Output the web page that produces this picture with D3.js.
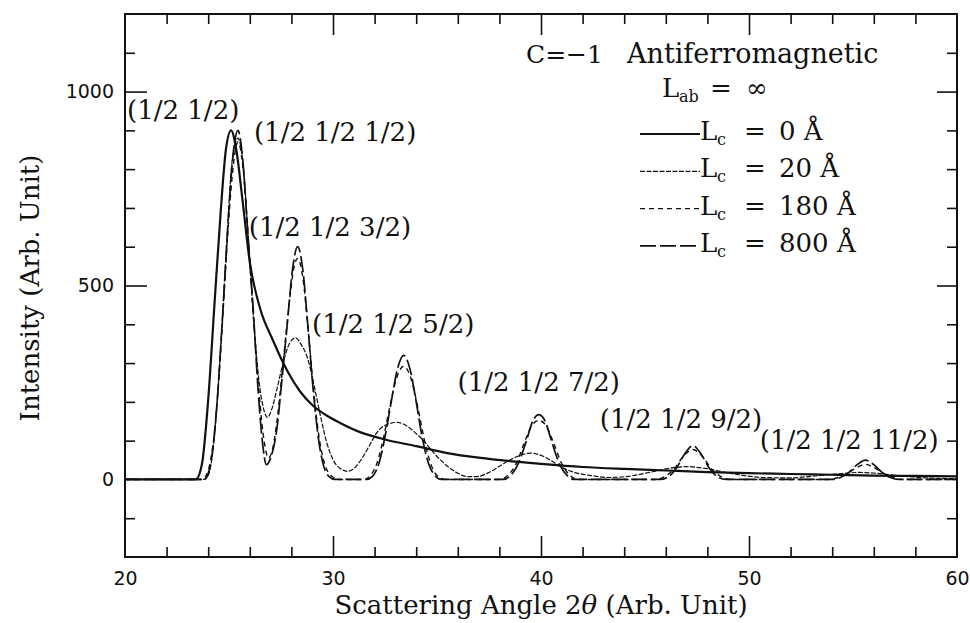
<!DOCTYPE html>
<html>
<head>
<meta charset="utf-8">
<script src="https://cdn.jsdelivr.net/npm/d3@7/dist/d3.min.js"></script>
<style>
  body { margin: 0; background: #fff; }
  svg { display: block; }
  .serif { font-family: "DejaVu Serif", serif; fill: #111; }
</style>
</head>
<body>
<svg id="chart" width="970" height="623"></svg>
<script>
// ---------------- data ----------------
const xTickLabels = [20, 30, 40, 50, 60];
const yTickLabels = [0, 500, 1000];

// L_c = 0 Å (2D rod, Warren-like profile)
const lc0Angle = [20, 23.4, 23.7, 24.0, 24.3, 24.6, 24.85, 25.1, 25.35, 25.65, 26.0, 26.5, 27.1, 27.8, 28.4, 29.0, 29.6, 30.3, 31.3, 32.5, 34.0, 35.5, 37.0, 38.5, 40.0, 42.0, 44.0, 46.0, 48.0, 50.0, 52.0, 54.0, 56.0, 58.0, 60.0];
const lc0Int   = [0, 0, 40, 206, 450, 690, 850, 900, 850, 720, 560, 440, 360, 280, 228, 192, 168, 147, 122, 103, 86, 68, 56, 47, 40, 32, 27, 23, 19, 16, 14, 12, 10, 9, 8];

// L_c = 20 Å (broad peaks)
const lc20Angle = [20, 23.8, 24.0, 24.3, 24.6, 24.9, 25.15, 25.43, 25.7, 25.95, 26.2, 26.45, 26.7, 26.85, 27.05, 27.3, 27.6, 27.9, 28.2, 28.5, 28.75, 29.1, 29.4, 29.7, 30.0, 30.35, 30.7, 31.0, 31.4, 31.8, 32.1, 32.6, 33.1, 33.6, 34.0, 34.3, 34.9, 35.5, 36.0, 36.5, 37.0, 37.5, 38.0, 38.5, 39.0, 39.5, 40.0, 40.5, 40.9, 41.5, 42.4, 43.3, 44.2, 45.2, 46.1, 47.0, 47.8, 48.5, 49.5, 50.7, 52.0, 53.0, 54.2, 55.3, 56.3, 57.3, 58.5, 60.0];
const lc20Int   = [0, 0, 10, 110, 340, 620, 820, 880, 800, 600, 400, 250, 175, 160, 180, 232, 300, 350, 365, 345, 317, 240, 163, 95, 51, 28, 21, 28, 55, 92, 120, 142, 147, 136, 118, 103, 65, 34, 16, 7, 8, 18, 34, 50, 62, 68, 62, 48, 34, 20, 10, 5, 8, 18, 28, 33, 29, 22, 12, 5, 4, 8, 14, 18, 15, 9, 4, 2];

// L_c = 180 Å
const lc180Angle = [20, 23.7, 23.9, 24.1, 24.3, 24.5, 24.7, 24.9, 25.15, 25.43, 25.7, 25.95, 26.2, 26.45, 26.7, 26.9, 27.1, 27.35, 27.6, 27.85, 28.1, 28.3, 28.55, 28.8, 29.05, 29.3, 29.6, 29.9, 30.3, 31.5, 31.8, 32.1, 32.4, 32.7, 33.05, 33.4, 33.75, 34.1, 34.4, 34.7, 35.0, 35.4, 38.0, 38.4, 38.8, 39.2, 39.55, 39.9, 40.25, 40.6, 41.0, 41.4, 41.8, 45.5, 45.9, 46.4, 46.85, 47.3, 47.75, 48.2, 48.7, 49.1, 53.8, 54.3, 54.75, 55.2, 55.6, 56.0, 56.45, 56.9, 57.4, 60];
const lc180Int   = [0, 0, 10, 45, 120, 250, 420, 600, 780, 870, 790, 600, 400, 220, 95, 55, 80, 170, 300, 430, 540, 570, 520, 390, 240, 120, 40, 10, 0, 0, 10, 40, 100, 180, 260, 292, 260, 180, 100, 40, 10, 0, 0, 10, 40, 95, 138, 152, 138, 95, 40, 10, 0, 0, 6, 27, 60, 77, 60, 27, 6, 0, 0, 5, 16, 31, 39, 31, 16, 5, 0, 0];

// L_c = 800 Å
const lc800Angle = [20, 23.8, 24.0, 24.2, 24.4, 24.6, 24.8, 25.0, 25.2, 25.43, 25.65, 25.9, 26.15, 26.4, 26.6, 26.8, 27.0, 27.3, 27.55, 27.8, 28.05, 28.3, 28.55, 28.8, 29.05, 29.3, 29.55, 29.8, 30.1, 31.6, 31.9, 32.2, 32.5, 32.8, 33.1, 33.4, 33.7, 34.0, 34.3, 34.6, 34.9, 35.2, 38.2, 38.5, 38.9, 39.3, 39.6, 39.9, 40.2, 40.5, 40.9, 41.3, 41.6, 45.7, 46.1, 46.5, 46.9, 47.3, 47.7, 48.1, 48.5, 48.9, 54.0, 54.4, 54.8, 55.2, 55.6, 56.0, 56.4, 56.8, 57.2, 60];
const lc800Int   = [0, 0, 15, 70, 180, 340, 520, 700, 840, 900, 830, 640, 450, 230, 100, 38, 55, 130, 260, 400, 540, 600, 540, 390, 230, 105, 35, 8, 0, 0, 8, 40, 110, 200, 285, 320, 285, 200, 105, 40, 10, 0, 0, 8, 40, 100, 150, 167, 150, 100, 38, 8, 0, 0, 6, 28, 65, 87, 65, 28, 6, 0, 0, 5, 18, 38, 50, 38, 18, 5, 0, 0];

// peak labels
const peakLabels = ["(1/2 1/2)", "(1/2 1/2 1/2)", "(1/2 1/2 3/2)", "(1/2 1/2 5/2)", "(1/2 1/2 7/2)", "(1/2 1/2 9/2)", "(1/2 1/2 11/2)"];
const peakLabelAngle = [20.1, 26.2, 25.95, 28.99, 35.99, 42.83, 50.52];
const peakLabelInt   = [930, 873, 627, 378, 227, 133, 79];

// legend
const legendValues = ["0", "20", "180", "800"];

// ---------------- drawing ----------------
const svg = d3.select("#chart");
const x = d3.scaleLinear().domain([20, 60]).range([125, 957]);
const y = d3.scaleLinear().domain([-200, 1200]).range([557, 14]);

svg.append("defs").append("clipPath").attr("id", "clip")
  .append("rect").attr("x", 125).attr("y", 14).attr("width", 832).attr("height", 543);

const styles = [
  { a: lc0Angle,   v: lc0Int,   w: 2.2, dash: null },
  { a: lc20Angle,  v: lc20Int,  w: 1.2, dash: "5,1.5" },
  { a: lc180Angle, v: lc180Int, w: 1.4, dash: "5,4" },
  { a: lc800Angle, v: lc800Int, w: 1.7, dash: "16,4" }
];

const line = d3.line().x(d => x(d[0])).y(d => y(d[1])).curve(d3.curveMonotoneX);
const plot = svg.append("g").attr("clip-path", "url(#clip)");
styles.forEach(s => {
  plot.append("path")
    .attr("d", line(s.a.map((t, i) => [t, s.v[i]])))
    .attr("fill", "none").attr("stroke", "#111")
    .attr("stroke-width", s.w)
    .attr("stroke-dasharray", s.dash);
});

// axes: minor and major ticks, all inward
const xMinor = d3.range(22, 60, 2).filter(v => v % 10 !== 0);
const yMinor = d3.range(-100, 1200, 100).filter(v => v % 500 !== 0);

function addAxis(axisFn, scale, transform, values, size, labels) {
  const ax = axisFn(scale).tickValues(values).tickSize(-size).tickPadding(labels ? 11 : 0);
  ax.tickFormat(labels ? d3.format("d") : "");
  const g = svg.append("g").attr("transform", transform).call(ax);
  g.select(".domain").remove();
  g.selectAll(".tick line").attr("stroke", "#111").attr("stroke-width", 1.6);
  g.selectAll(".tick text")
    .attr("font-family", "'DejaVu Sans', sans-serif")
    .attr("font-size", 19).attr("fill", "#111");
  return g;
}
// bottom
addAxis(d3.axisBottom, x, "translate(0,557)", xMinor, 10, false);
addAxis(d3.axisBottom, x, "translate(0,557)", [30, 40, 50], 21, false);
const gx = addAxis(d3.axisBottom, x, "translate(0,557)", xTickLabels, 0, true);
gx.selectAll(".tick text").attr("dy", "0.9em");
// top
addAxis(d3.axisTop, x, "translate(0,14)", xMinor, 10, false);
addAxis(d3.axisTop, x, "translate(0,14)", [30, 40, 50], 21, false);
// left
addAxis(d3.axisLeft, y, "translate(125,0)", yMinor, 10, false);
addAxis(d3.axisLeft, y, "translate(125,0)", [500, 1000], 22, false);
const gy = addAxis(d3.axisLeft, y, "translate(125,0)", yTickLabels, 0, true);
// right
addAxis(d3.axisRight, y, "translate(957,0)", yMinor, 10, false);
addAxis(d3.axisRight, y, "translate(957,0)", [500, 1000], 20, false);

// frame
svg.append("rect").attr("x", 125).attr("y", 14).attr("width", 832).attr("height", 543)
  .attr("fill", "none").attr("stroke", "#111").attr("stroke-width", 2);

// axis titles
svg.append("text").attr("class", "serif")
  .attr("transform", "translate(39,288) rotate(-90)")
  .attr("text-anchor", "middle").attr("font-size", 26)
  .text("Intensity (Arb. Unit)");
const xt = svg.append("text").attr("class", "serif")
  .attr("x", 541).attr("y", 614).attr("text-anchor", "middle").attr("font-size", 26);
xt.append("tspan").text("Scattering Angle 2");
xt.append("tspan").attr("font-style", "italic").text("θ");
xt.append("tspan").text(" (Arb. Unit)");

// peak labels
peakLabels.forEach((t, i) => {
  svg.append("text").attr("class", "serif").attr("font-size", 26)
    .attr("x", x(peakLabelAngle[i])).attr("y", y(peakLabelInt[i]))
    .text(t);
});

// legend block
svg.append("text").attr("class", "serif").attr("font-size", 25).attr("x", 526).attr("y", 63).text("C=−1");
svg.append("text").attr("class", "serif").attr("font-size", 27).attr("x", 627).attr("y", 63).text("Antiferromagnetic");
svg.append("text").attr("class", "serif").attr("font-size", 26).attr("x", 662).attr("y", 97).text("L");
svg.append("text").attr("class", "serif").attr("font-size", 16).attr("x", 679).attr("y", 102).text("ab");
svg.append("text").attr("class", "serif").attr("font-size", 26).attr("x", 710).attr("y", 97).text("=");
svg.append("text").attr("class", "serif").attr("font-size", 26).attr("x", 746).attr("y", 97).text("∞");

legendValues.forEach((v, i) => {
  const ly = 134 + i * 37.3;
  svg.append("line").attr("x1", 640).attr("x2", 700).attr("y1", ly).attr("y2", ly)
    .attr("stroke", "#111").attr("stroke-width", styles[i].w)
    .attr("stroke-dasharray", styles[i].dash);
  const base = ly + 6;
  svg.append("text").attr("class", "serif").attr("font-size", 26).attr("x", 700).attr("y", base).text("L");
  svg.append("text").attr("class", "serif").attr("font-size", 16).attr("x", 717).attr("y", base + 5).text("c");
  svg.append("text").attr("class", "serif").attr("font-size", 26).attr("x", 744).attr("y", base).text("=");
  svg.append("text").attr("class", "serif").attr("font-size", 26).attr("x", 779).attr("y", base).text(v + " Å");
});
</script>
</body>
</html>
